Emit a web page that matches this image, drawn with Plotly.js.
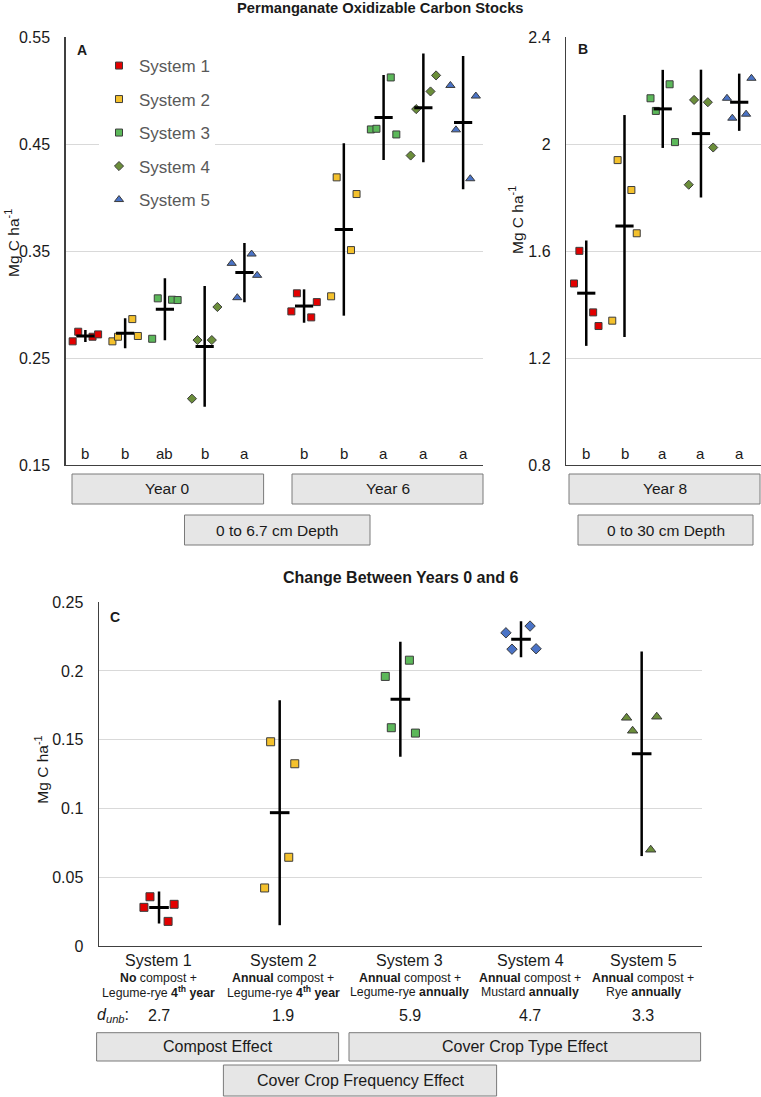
<!DOCTYPE html>
<html>
<head>
<meta charset="utf-8">
<script src="https://cdn.plot.ly/plotly-3.0.1.min.js"></script>
<style>
  html, body { margin: 0; padding: 0; background: #fff; }
  #chart { width: 761px; height: 1097px; }
</style>
</head>
<body>
<div id="chart"></div>
<script>
// ---------- data ----------
const systems = ['System 1', 'System 2', 'System 3', 'System 4', 'System 5'];

// POXC stocks, 0 to 6.7 cm, four plots per system (Mg C ha-1)
const year0 = [
  [0.2656, 0.2746, 0.2699, 0.2721],
  [0.2656, 0.2699, 0.2864, 0.2706],
  [0.2680, 0.3058, 0.3045, 0.3042],
  [0.2120, 0.2668, 0.2668, 0.2977],
  [0.3385, 0.3064, 0.3472, 0.3273]
];
const year0CI = [0.0056, 0.0140, 0.0290, 0.0564, 0.0276];

const year6 = [
  [0.2936, 0.3105, 0.2880, 0.3023],
  [0.3077, 0.4189, 0.3509, 0.4033],
  [0.4637, 0.4643, 0.5123, 0.4590],
  [0.4393, 0.4827, 0.4992, 0.5142],
  [0.5048, 0.4633, 0.4176, 0.4949]
];
const year6CI = [0.0156, 0.0806, 0.0397, 0.0508, 0.0623];

// POXC stocks, 0 to 30 cm
const year8 = [
  [1.4788, 1.6008, 1.3707, 1.3197],
  [1.3397, 1.9402, 1.8283, 1.6665],
  [2.1714, 2.1241, 2.2237, 2.0074],
  [1.8481, 2.1652, 2.1566, 1.9873],
  [2.1714, 2.0969, 2.1118, 2.2461]
];
const year8CI = [0.197, 0.415, 0.146, 0.239, 0.107];

// change between years 0 and 6
const change = [
  [0.0281, 0.0358, 0.0179, 0.0303],
  [0.0422, 0.1485, 0.0645, 0.1325],
  [0.1960, 0.1587, 0.2078, 0.1548],
  [0.2277, 0.2158, 0.2326, 0.2161],
  [0.1659, 0.1565, 0.0700, 0.1667]
];
const changeCI = [0.0116, 0.0818, 0.0418, 0.0131, 0.0744];

const lettersY0 = ['b', 'b', 'ab', 'b', 'a'];
const lettersY6 = ['b', 'b', 'a', 'a', 'a'];
const lettersY8 = ['b', 'b', 'a', 'a', 'a'];

const mgmtLine1 = ['<b>No</b> compost +', '<b>Annual</b> compost +', '<b>Annual</b> compost +',
                   '<b>Annual</b> compost +', '<b>Annual</b> compost +'];
const mgmtLine2 = ['Legume-rye <b>4<sup>th</sup> year</b>', 'Legume-rye <b>4<sup>th</sup> year</b>',
                   'Legume-rye <b>annually</b>', 'Mustard <b>annually</b>', 'Rye <b>annually</b>'];
const dUnb = ['2.7', '1.9', '5.9', '4.7', '3.3'];

// ---------- styling / layout helpers ----------
const W = 761, H = 1097;
const px = v => v / W;
const py = v => 1 - v / H;
const FONT = 'Liberation Sans, Arial, sans-serif';

const colorsAB = ['#e30000', '#f4c12c', '#5cb85a', '#6b8e3a', '#4a73c6'];
const colorsC  = ['#e30000', '#f4c12c', '#5cb85a', '#4a73c6', '#6b8e3a'];
const symbols  = ['square', 'square', 'square', 'diamond', 'triangle-up'];
const sizes    = [7, 7, 7, 7, 8];

const posY0 = [1, 2, 3, 4, 5];
const posY6 = [6.5, 7.5, 8.5, 9.5, 10.5];
const posY8 = [1, 2, 3, 4, 5];
const posC  = [0, 1, 2, 3, 4];
const dodgeAB = [-0.32, -0.18, 0.18, 0.32];
const dodgeC  = [-0.125, -0.075, 0.075, 0.125];

const mean = a => a.reduce((s, v) => s + v, 0) / a.length;

const traces = [];
function addSystem(xa, ya, pos, vals, ci, color, symbol, size, dodge, barLen, legend, name) {
  traces.push({
    type: 'scatter', mode: 'markers', xaxis: xa, yaxis: ya,
    x: vals.map((v, i) => pos + dodge[i]), y: vals,
    name: name, legendgroup: name, showlegend: legend, hoverinfo: 'skip',
    marker: { symbol: symbol, size: size, color: color, line: { color: '#3c3c3c', width: 1 } }
  });
  traces.push({
    type: 'scatter', mode: 'markers', xaxis: xa, yaxis: ya,
    x: [pos], y: [mean(vals)], showlegend: false, hoverinfo: 'skip',
    marker: { symbol: 'line-ew', size: barLen, color: '#000', line: { color: '#000', width: 3 } },
    error_y: { type: 'data', array: [ci], visible: true, color: '#000', thickness: 2.5, width: 0 }
  });
}

for (let s = 0; s < 5; s++) {
  addSystem('x', 'y', posY0[s], year0[s], year0CI[s], colorsAB[s], symbols[s], sizes[s], dodgeAB, 13, true, systems[s]);
}
for (let s = 0; s < 5; s++) {
  addSystem('x', 'y', posY6[s], year6[s], year6CI[s], colorsAB[s], symbols[s], sizes[s], dodgeAB, 13, false, systems[s]);
  addSystem('x2', 'y2', posY8[s], year8[s], year8CI[s], colorsAB[s], symbols[s], sizes[s], dodgeAB, 13, false, systems[s]);
  addSystem('x3', 'y3', posC[s], change[s], changeCI[s], colorsC[s], symbols[s], sizes[s] + 1, dodgeC, 14, false, systems[s]);
}

// ---------- annotations ----------
const ann = [];
const txt = (text, x, y, size, opts) => ann.push(Object.assign({
  text: text, x: x, y: y, xref: 'paper', yref: 'paper', showarrow: false,
  xanchor: 'center', yanchor: 'middle', font: { family: FONT, size: size, color: '#1a1a1a' }
}, opts || {}));

txt('<b>Permanganate Oxidizable Carbon Stocks</b>', px(380), py(8), 14.7);
txt('<b>Change Between Years 0 and 6</b>', px(400), py(577), 16);
txt('<b>A</b>', px(75), py(49.5), 14, { xanchor: 'left' });
txt('<b>B</b>', px(576), py(49), 14, { xanchor: 'left' });
txt('<b>C</b>', px(108), py(617), 14, { xanchor: 'left' });
txt('Mg C ha<sup>-1</sup>', px(12), py(243), 15.5, { textangle: -90 });
txt('Mg C ha<sup>-1</sup>', px(516), py(220), 15.5, { textangle: -90 });
txt('Mg C ha<sup>-1</sup>', px(41.7), py(770), 15.5, { textangle: -90 });

// significance letters
const letter = (t, xa, x) => ann.push({
  text: t, x: x, y: py(453), xref: xa, yref: 'paper', showarrow: false,
  xanchor: 'center', yanchor: 'middle', font: { family: FONT, size: 15, color: '#1a1a1a' }
});
lettersY0.forEach((t, i) => letter(t, 'x', posY0[i]));
lettersY6.forEach((t, i) => letter(t, 'x', posY6[i]));
lettersY8.forEach((t, i) => letter(t, 'x2', posY8[i]));

// system descriptions under panel C
const labelCenters = [158.5, 283, 409.5, 530, 643];
systems.forEach((s, i) => {
  txt(s, px(labelCenters[i]), py(960), 16);
  txt(mgmtLine1[i], px(labelCenters[i]), py(977.7), 12.3);
  txt(mgmtLine2[i], px(labelCenters[i]), py(992.3), 12.3);
  txt(dUnb[i], px(labelCenters[i]), py(1016), 16);
});
txt('<i>d</i><sub><i>unb</i></sub>:', px(95), py(1016), 16, { xanchor: 'left' });

// grouping boxes
const shapes = [];
const box = (label, x0, y0, x1, y1, size) => {
  shapes.push({ type: 'rect', xref: 'paper', yref: 'paper', x0: px(x0), x1: px(x1), y0: py(y1), y1: py(y0),
                fillcolor: '#e6e6e6', line: { color: '#7a7a7a', width: 1 }, layer: 'above' });
  txt(label, px((x0 + x1) / 2), py((y0 + y1) / 2), size);
};
box('Year 0', 72, 474, 263.6, 504, 15.5);
box('Year 6', 292, 474, 483, 504, 15.5);
box('0 to 6.7 cm Depth', 184.5, 515, 370, 545, 15.5);
box('Year 8', 569, 474, 760, 504, 15.5);
box('0 to 30 cm Depth', 578, 515, 753, 545, 15.5);
box('Compost Effect', 96.6, 1032.7, 338.6, 1061, 16);
box('Cover Crop Type Effect', 349, 1032.7, 700.6, 1061, 16);
box('Cover Crop Frequency Effect', 223.4, 1065, 496.6, 1096, 16);

// ---------- axes ----------
const xBase = { showgrid: false, zeroline: false, showticklabels: false, ticks: '',
                showline: true, linecolor: '#404040', linewidth: 1.2, fixedrange: true };
const yBase = { showgrid: true, gridcolor: '#d9d9d9', gridwidth: 1, zeroline: false,
                showline: true, linecolor: '#404040', linewidth: 1.2, ticks: '',
                ticklabelstandoff: 11, fixedrange: true,
                tickfont: { family: FONT, size: 16, color: '#1a1a1a' } };

const layout = {
  width: W, height: H,
  margin: { l: 0, r: 0, t: 0, b: 0 },
  paper_bgcolor: '#fff', plot_bgcolor: 'rgba(0,0,0,0)',
  xaxis:  Object.assign({}, xBase, { domain: [px(65.5), px(483)], range: [0.5, 11], anchor: 'y' }),
  yaxis:  Object.assign({}, yBase, { domain: [py(465), py(37)], range: [0.15, 0.5501], tick0: 0.15, dtick: 0.1, anchor: 'x' }),
  xaxis2: Object.assign({}, xBase, { domain: [px(566), 1], range: [0.47, 5.57], anchor: 'y2' }),
  yaxis2: Object.assign({}, yBase, { domain: [py(465), py(37)], range: [0.8, 2.4005], tick0: 0.8, dtick: 0.4, anchor: 'x2' }),
  xaxis3: Object.assign({}, xBase, { domain: [px(98.7), px(702)], range: [-0.5, 4.5], anchor: 'y3' }),
  yaxis3: Object.assign({}, yBase, { domain: [py(946), py(602)], range: [0, 0.2501], tick0: 0, dtick: 0.05, anchor: 'x3' }),
  showlegend: true,
  legend: {
    x: px(99), y: py(48), xanchor: 'left', yanchor: 'top',
    bgcolor: '#ffffff', borderwidth: 0, tracegroupgap: 8.4, itemwidth: 30,
    font: { family: FONT, size: 17, color: '#595959' }, itemclick: false, itemdoubleclick: false
  },
  annotations: ann,
  shapes: shapes
};

Plotly.newPlot('chart', traces, layout, { displayModeBar: false, staticPlot: true });
</script>
</body>
</html>
